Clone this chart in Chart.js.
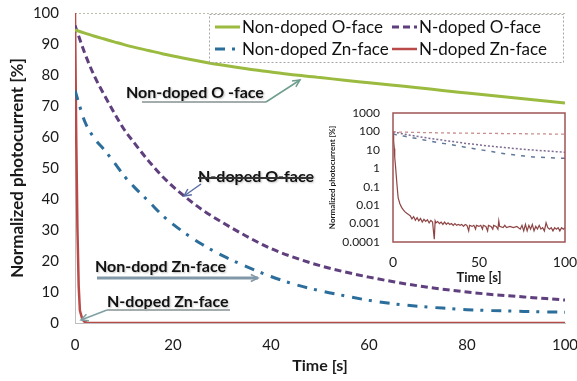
<!DOCTYPE html>
<html>
<head>
<meta charset="utf-8">
<script src="https://cdn.jsdelivr.net/npm/chart.js@4/dist/chart.umd.min.js"></script>
<style>
  html, body { margin: 0; padding: 0; background: #fff; }
  #wrap { position: relative; width: 577px; height: 381px; }
  #main { position: absolute; left: 0; top: 0; }
  #inset { position: absolute; left: 326px; top: 100px; }
</style>
</head>
<body>
<div id="wrap">
  <canvas id="main" width="577" height="381"></canvas>
  <canvas id="inset" width="251" height="192"></canvas>
</div>
<script>
// photocurrent decay, normalized to 100 % at t = 0
const seriesNames = ['Non-doped O-face', 'N-doped O-face', 'Non-doped Zn-face', 'N-doped Zn-face'];

const timeSmooth = [0, 2, 4, 6, 8, 10, 12, 15, 18, 22, 26, 30, 35, 40, 45, 50, 55, 60, 65, 70, 75, 80, 85, 90, 95, 100];
const nonDopedO = [94.5, 93.5, 92.5, 91.6, 90.7, 89.8, 89.0, 87.9, 86.8, 85.5, 84.3, 83.2, 82.0, 81.0, 80.0, 79.2, 78.3, 77.5, 76.7, 75.9, 75.0, 74.2, 73.4, 72.6, 71.8, 71.0];
const nDopedO = [96, 87, 79.5, 73.5, 67.8, 62.5, 58.3, 52.3, 47, 41.3, 36.5, 32.5, 28, 24, 21, 18.5, 16.5, 14.8, 13.3, 12, 10.9, 10, 9.2, 8.6, 8, 7.4];
const nonDopedZn = [75, 65, 59.5, 55.8, 51.8, 47.5, 44, 39.3, 34.5, 29.5, 25.3, 21.8, 18.2, 15, 12.4, 10.4, 8.8, 7.3, 6.2, 5.4, 4.8, 4.3, 4.0, 3.8, 3.6, 3.5];

const timeNZn = [0, 0.25, 0.5, 0.75, 1, 1.5, 2, 2.5, 3, 4, 5, 6, 7, 8, 9,
  10, 11, 12, 13, 14, 15, 16, 17, 18, 19, 20, 21, 22, 23, 24, 24.5, 25, 26, 27, 28, 29,
  30, 31, 32, 33, 34, 35, 36, 37, 38, 39, 40, 41, 42, 43, 44, 44.5, 46, 47, 48, 48.5,
  50, 51, 52, 52.5, 54, 55, 55.5, 57, 58, 58.5, 60, 61, 61.5, 62, 64, 65, 66, 68,
  70, 72, 74, 75, 76, 77, 78, 79, 80, 81, 82, 83, 84, 85, 86, 87, 88, 89,
  90, 91, 92, 93, 94, 95, 96, 97, 98, 99, 100];
const nDopedZn = [100, 60, 30, 12, 4, 1.2, 0.3, 0.08, 0.025, 0.012, 0.0076, 0.0055, 0.0043, 0.0036, 0.0031,
  0.0027, 0.0018, 0.0024, 0.0015, 0.0021, 0.0014, 0.0019, 0.0012, 0.0017, 0.0013, 0.0016, 0.0011, 0.0015, 0.0012, 0.00014, 0.0014, 0.0011, 0.0013, 0.001, 0.0012, 0.0009,
  0.0012, 0.0009, 0.0011, 0.0009, 0.001, 0.0008, 0.001, 0.0008, 0.0009, 0.0008, 0.0009, 0.0007, 0.0009, 0.0008, 0.0004, 0.0008, 0.0007, 0.0008, 0.0005, 0.0008,
  0.0007, 0.0008, 0.0005, 0.0008, 0.0007, 0.0004, 0.0008, 0.0007, 0.0005, 0.0008, 0.0007, 0.0005, 0.0014, 0.0007, 0.0006, 0.0008, 0.0006, 0.0007,
  0.0006, 0.0007, 0.0005, 0.0008, 0.0004, 0.0009, 0.0004, 0.0008, 0.0005, 0.0009, 0.0004, 0.0007, 0.0005, 0.0008, 0.0005, 0.0006, 0.0004, 0.0011,
  0.0006, 0.0005, 0.0006, 0.0004, 0.0006, 0.0005, 0.0006, 0.0004, 0.0006, 0.0005, 0.0006];

const xTicksMain = [0, 20, 40, 60, 80, 100];
const yTicksMain = [0, 10, 20, 30, 40, 50, 60, 70, 80, 90, 100];
const xTicksInset = [0, 50, 100];
const yTicksInset = [0.0001, 0.001, 0.01, 0.1, 1, 10, 100, 1000];

const toPoints = (xs, ys) => xs.map((x, i) => ({x, y: ys[i]}));
const setTicks = list => scale => { scale.ticks = list.map(value => ({value})); };
// fixed axis box, and no extra room reserved for the end labels
const fixHeight = h => scale => { scale.height = h; scale.paddingLeft = 0; scale.paddingRight = 0; };
const fixWidth = w => scale => { scale.width = w; scale.paddingTop = 0; scale.paddingBottom = 0; };

Chart.defaults.font.family = 'Lato, "Open Sans", sans-serif';
Chart.defaults.color = '#1a1a1a';

const mainStyles = [
  {borderColor: '#9BBB40', borderWidth: 3, borderDash: []},
  {borderColor: '#5F3F7D', borderWidth: 3, borderDash: [7, 4]},
  {borderColor: '#2B6E9B', borderWidth: 3, borderDash: [10, 7, 3, 8]},
  {borderColor: '#B94A48', borderWidth: 2.5, borderDash: []}
];
const insetStyles = [
  {borderColor: '#C98D8D', borderWidth: 1.3, borderDash: [3, 3]},
  {borderColor: '#7E6A92', borderWidth: 1.5, borderDash: [2, 2]},
  {borderColor: '#60789A', borderWidth: 1.5, borderDash: [4, 6]},
  {borderColor: '#8E4444', borderWidth: 1.2, borderDash: []}
];

const buildDatasets = styles => [
  toPoints(timeSmooth, nonDopedO),
  toPoints(timeSmooth, nDopedO),
  toPoints(timeSmooth, nonDopedZn),
  toPoints(timeNZn, nDopedZn)
].map((data, i) => ({
  label: seriesNames[i],
  data,
  ...styles[i],
  pointRadius: 0,
  fill: false,
  cubicInterpolationMode: i < 3 ? 'monotone' : 'default',
  tension: 0
}));

// legend box in the upper right, two columns
const legendBox = {left: 209, top: 14, right: 563, bottom: 62};
const legendSlots = [[215, 27], [392, 27], [215, 49], [392, 49]];

// text callouts with pointer lines
const callouts = [
  {text: 'Non-doped O -face', x: 126, y: 93,
   under: [[142, 102], [266, 102]], underColor: '#A3ADAD',
   arrow: [[266, 102], [300, 80]], color: '#6E9E8C', width: 1.5},
  {text: 'N-doped O-face', x: 198, y: 177,
   under: [[198, 178], [313, 178]], underColor: '#333',
   arrow: [[201, 184], [184, 196]], color: '#5B6FA5', width: 1.5},
  {text: 'Non-dopd Zn-face', x: 95, y: 267,
   under: null,
   arrow: [[97, 278], [258, 278]], color: '#8198A8', width: 3},
  {text: 'N-doped Zn-face', x: 107, y: 302,
   under: [[107, 310], [230, 310]], underColor: '#A3ADAD',
   arrow: [[107, 310], [81, 320]], color: '#7FA0A2', width: 1.5}
];

const drawArrow = (ctx, [x1, y1], [x2, y2], color, width) => {
  const a = Math.atan2(y2 - y1, x2 - x1);
  const h = 8;
  ctx.save();
  ctx.strokeStyle = color;
  ctx.lineWidth = width;
  ctx.beginPath();
  ctx.moveTo(x1, y1);
  ctx.lineTo(x2, y2);
  ctx.stroke();
  ctx.lineWidth = 1.5;
  ctx.beginPath();
  ctx.moveTo(x2 - h * Math.cos(a - 0.45), y2 - h * Math.sin(a - 0.45));
  ctx.lineTo(x2, y2);
  ctx.lineTo(x2 - h * Math.cos(a + 0.45), y2 - h * Math.sin(a + 0.45));
  ctx.stroke();
  ctx.restore();
};

const decorPlugin = {
  id: 'decor',
  beforeDatasetsDraw(chart) {
    const {ctx, chartArea} = chart;
    ctx.save();
    ctx.strokeStyle = '#BDBDAE';
    ctx.lineWidth = 1;
    ctx.setLineDash([2, 2]);
    ctx.beginPath();
    ctx.moveTo(chartArea.left, chartArea.top + 0.5);
    ctx.lineTo(chartArea.right, chartArea.top + 0.5);
    ctx.stroke();
    ctx.restore();
  },
  afterDraw(chart) {
    const {ctx} = chart;
    // legend
    ctx.save();
    ctx.fillStyle = '#fff';
    ctx.fillRect(legendBox.left, legendBox.top, legendBox.right - legendBox.left, legendBox.bottom - legendBox.top);
    ctx.strokeStyle = '#A6A6A6';
    ctx.lineWidth = 1;
    ctx.setLineDash([2, 2]);
    ctx.strokeRect(legendBox.left + 0.5, legendBox.top + 0.5, legendBox.right - legendBox.left, legendBox.bottom - legendBox.top);
    chart.data.datasets.forEach((ds, i) => {
      const [x, y] = legendSlots[i];
      ctx.strokeStyle = ds.borderColor;
      ctx.lineWidth = ds.borderWidth;
      ctx.setLineDash(ds.borderDash);
      ctx.beginPath();
      ctx.moveTo(x, y);
      ctx.lineTo(x + 25, y);
      ctx.stroke();
      ctx.setLineDash([]);
      ctx.fillStyle = '#111';
      ctx.font = '17px Lato, sans-serif';
      ctx.textBaseline = 'middle';
      ctx.fillText(ds.label, x + 27, y + 1);
    });
    ctx.restore();

    // callouts
    callouts.forEach(c => {
      ctx.save();
      ctx.font = 'bold 16px Lato, sans-serif';
      ctx.textBaseline = 'middle';
      ctx.shadowColor = 'rgba(0,0,0,0.25)';
      ctx.shadowBlur = 2;
      ctx.shadowOffsetX = 1;
      ctx.shadowOffsetY = 1;
      ctx.fillStyle = '#111';
      ctx.fillText(c.text, c.x, c.y);
      ctx.restore();
      if (c.under) {
        ctx.save();
        ctx.strokeStyle = c.underColor;
        ctx.lineWidth = 2;
        ctx.beginPath();
        ctx.moveTo(...c.under[0]);
        ctx.lineTo(...c.under[1]);
        ctx.stroke();
        ctx.restore();
      }
      drawArrow(ctx, c.arrow[0], c.arrow[1], c.color, c.width);
    });
  }
};

new Chart(document.getElementById('main').getContext('2d'), {
  type: 'line',
  data: {datasets: buildDatasets(mainStyles)},
  options: {
    responsive: false,
    animation: false,
    layout: {padding: {top: 13, right: 12, left: 0, bottom: 0}},
    plugins: {legend: {display: false}, tooltip: {enabled: false}},
    scales: {
      x: {
        type: 'linear', min: 0, max: 100,
        afterBuildTicks: setTicks(xTicksMain),
        afterFit: fixHeight(58),
        grid: {display: false, drawTicks: false},
        border: {color: '#BFBFBF'},
        ticks: {padding: 13, font: {size: 15}, maxRotation: 0},
        title: {display: true, text: 'Time [s]', font: {size: 16, weight: 'bold'}, padding: {top: 0, bottom: 6}}
      },
      y: {
        type: 'linear', min: 0, max: 100,
        afterBuildTicks: setTicks(yTicksMain),
        afterFit: fixWidth(75),
        grid: {display: false, drawTicks: false},
        border: {color: '#BFBFBF'},
        ticks: {padding: 16, font: {size: 15}},
        title: {display: true, text: 'Normalized photocurrent [%]', font: {size: 17, weight: 'bold'}, padding: {top: 7, bottom: 0}}
      }
    }
  },
  plugins: [decorPlugin]
});

const framePlugin = {
  id: 'frame',
  afterDatasetsDraw(chart) {
    const {ctx, chartArea: a} = chart;
    ctx.save();
    ctx.strokeStyle = '#9E5454';
    ctx.lineWidth = 1.5;
    ctx.strokeRect(a.left, a.top, a.right - a.left, a.bottom - a.top);
    ctx.restore();
  }
};

new Chart(document.getElementById('inset').getContext('2d'), {
  type: 'line',
  data: {datasets: buildDatasets(insetStyles)},
  options: {
    responsive: false,
    animation: false,
    layout: {padding: {top: 13, right: 12, left: 0, bottom: 0}},
    plugins: {legend: {display: false}, tooltip: {enabled: false}},
    scales: {
      x: {
        type: 'linear', min: 0, max: 100,
        afterBuildTicks: setTicks(xTicksInset),
        afterFit: fixHeight(50),
        grid: {display: false, drawTicks: false},
        border: {display: false},
        ticks: {padding: 12, font: {size: 14}, maxRotation: 0},
        title: {display: true, text: 'Time [s]', font: {size: 13, weight: 'bold'}, padding: {top: 0, bottom: 6}}
      },
      y: {
        type: 'logarithmic', min: 0.0001, max: 1000,
        afterBuildTicks: setTicks(yTicksInset),
        afterFit: fixWidth(67),
        grid: {display: false, drawTicks: false},
        border: {display: false},
        ticks: {padding: 13, font: {size: 12}, callback: v => String(v)},
        title: {display: true, text: 'Normalized photocurrent [%]', font: {size: 8, weight: 'bold'}, padding: {top: 2, bottom: 0}}
      }
    }
  },
  plugins: [framePlugin]
});
</script>
</body>
</html>
